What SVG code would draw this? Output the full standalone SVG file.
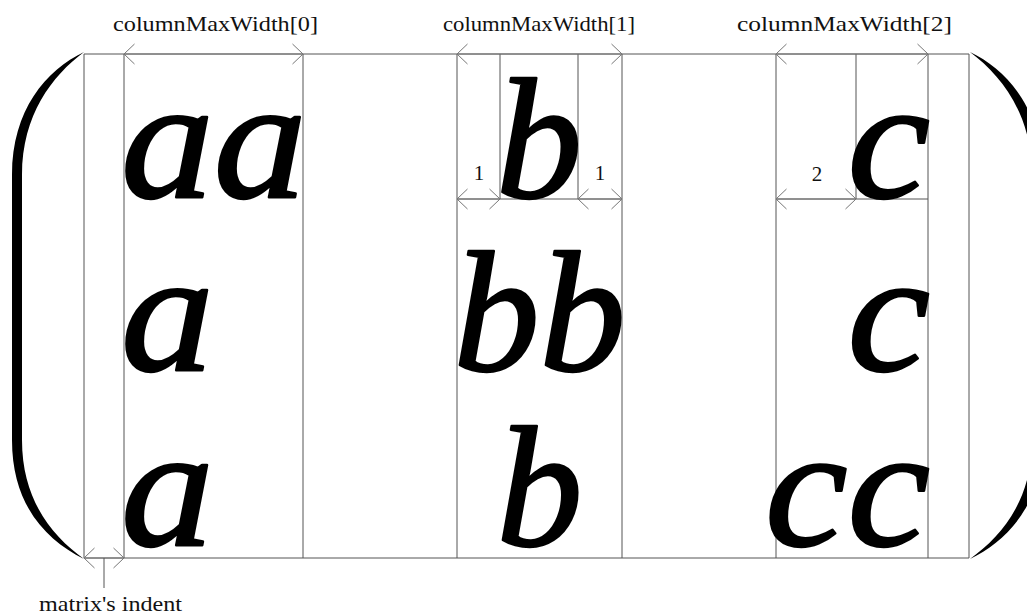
<svg xmlns="http://www.w3.org/2000/svg" width="1027" height="614" viewBox="0 0 1027 614">
<defs>
<style>
.bg{fill:#ffffff}
.ln{stroke:#555555;stroke-width:1;fill:none}
.ar{stroke:#777777;stroke-width:1;fill:none;marker-start:url(#ah);marker-end:url(#ah)}
.lab{font-family:"Liberation Serif","Times New Roman",serif;font-size:21px;fill:#111111}
.big{font-family:"Liberation Serif","Times New Roman",serif;font-style:italic;font-size:172px;fill:#000000;stroke:#000000;stroke-width:2.5;stroke-linejoin:round}
.br{fill:#000000}
</style>
<marker id="ah" viewBox="-12 -12 14 24" refX="0" refY="0" markerWidth="14" markerHeight="24" markerUnits="userSpaceOnUse" orient="auto-start-reverse" overflow="visible">
<path d="M-10.5,-10 L0,0 L-10.5,10" fill="none" stroke="#777777" stroke-width="1"/>
</marker>
</defs>
<rect class="bg" x="0" y="0" width="1027" height="614"/>

<g id="brackets">
<path id="left-paren" class="br" d="M84,52 C46,70 12,110 12,175 L12,440 C12,505 46,540 84,559 C52,536 22,500 22,440 L22,175 C22,115 52,76 84,52 Z"/>
<path id="right-paren" class="br" d="M970,52 C1008,70 1042,110 1042,175 L1042,440 C1042,505 1008,540 970,559 C1002,536 1032,500 1032,440 L1032,175 C1032,115 1002,76 970,52 Z"/>
</g>

<g id="connectors">
<line class="ln" x1="84" y1="54" x2="969" y2="54"/>
<line class="ln" x1="84" y1="558" x2="969" y2="558"/>
<line class="ln" x1="84" y1="54" x2="84" y2="558"/>
<line class="ln" x1="124" y1="54" x2="124" y2="558"/>
<line class="ln" x1="303" y1="54" x2="303" y2="558"/>
<line class="ln" x1="457" y1="54" x2="457" y2="558"/>
<line class="ln" x1="500" y1="54" x2="500" y2="199"/>
<line class="ln" x1="578" y1="54" x2="578" y2="199"/>
<line class="ln" x1="622" y1="54" x2="622" y2="558"/>
<line class="ln" x1="776" y1="54" x2="776" y2="558"/>
<line class="ln" x1="856" y1="54" x2="856" y2="199"/>
<line class="ln" x1="928" y1="54" x2="928" y2="558"/>
<line class="ln" x1="969" y1="54" x2="969" y2="558"/>
<line class="ln" x1="457" y1="199" x2="622" y2="199"/>
<line class="ln" x1="776" y1="199" x2="928" y2="199"/>
<line class="ar" x1="124" y1="54" x2="303" y2="54"/>
<line class="ar" x1="457" y1="54" x2="622" y2="54"/>
<line class="ar" x1="776" y1="54" x2="928" y2="54"/>
<line class="ar" x1="457" y1="199" x2="500" y2="199"/>
<line class="ar" x1="578" y1="199" x2="622" y2="199"/>
<line class="ar" x1="776" y1="199" x2="856" y2="199"/>
<line class="ar" x1="84" y1="558" x2="124" y2="558"/>
<line class="ln" x1="104" y1="558" x2="104" y2="588"/>
</g>

<g id="labels">
<text class="lab" x="113" y="31" textLength="205" lengthAdjust="spacingAndGlyphs">columnMaxWidth[0]</text>
<text class="lab" x="443" y="31" textLength="192" lengthAdjust="spacingAndGlyphs">columnMaxWidth[1]</text>
<text class="lab" x="737" y="31" textLength="215" lengthAdjust="spacingAndGlyphs">columnMaxWidth[2]</text>
<text class="lab" x="479" y="180" text-anchor="middle">1</text>
<text class="lab" x="600" y="180" text-anchor="middle">1</text>
<text class="lab" x="817" y="181" text-anchor="middle">2</text>
<text class="lab" x="39" y="611" textLength="143" lengthAdjust="spacingAndGlyphs">matrix's indent</text>
</g>

<g id="cell-0-0"><text class="big" transform="matrix(1.08,0,0,1,121,197)">aa</text></g>
<g id="cell-1-0"><text class="big" transform="matrix(1.08,0,0,1,121,370)">a</text></g>
<g id="cell-2-0"><text class="big" transform="matrix(1.08,0,0,1,121,545)">a</text></g>
<g id="cell-0-1"><text class="big" text-anchor="middle" transform="matrix(1.0,0,0,1,539,197)">b</text></g>
<g id="cell-1-1"><text class="big" text-anchor="middle" transform="matrix(1.0,0,0,1,539.5,370)">bb</text></g>
<g id="cell-2-1"><text class="big" text-anchor="middle" transform="matrix(1.0,0,0,1,539.5,545)">b</text></g>
<g id="cell-0-2"><text class="big" text-anchor="end" transform="matrix(1.08,0,0,1,930,197)">c</text></g>
<g id="cell-1-2"><text class="big" text-anchor="end" transform="matrix(1.08,0,0,1,930,370)">c</text></g>
<g id="cell-2-2"><text class="big" text-anchor="end" transform="matrix(1.08,0,0,1,930,545)">cc</text></g>
</svg>
